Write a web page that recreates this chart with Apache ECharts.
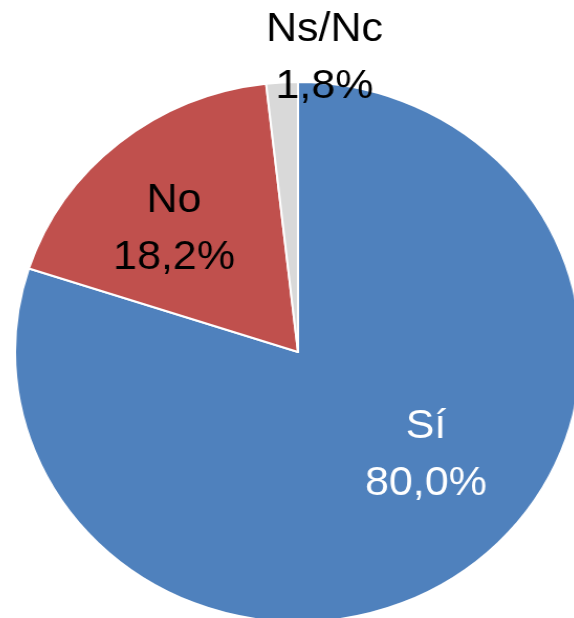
<!DOCTYPE html>
<html>
<head>
<meta charset="utf-8">
<script src="https://cdn.jsdelivr.net/npm/echarts@6/dist/echarts.min.js"></script>
<style>
html,body{margin:0;padding:0;background:#fff;overflow:hidden;}
#wrap{width:574px;height:618px;overflow:hidden;position:relative;}
#chart{width:574px;height:618px;transform:scaleX(1.048);transform-origin:298px 352px;}
</style>
</head>
<body>
<div id="wrap"><div id="chart"></div></div>
<script>
const categories = ['Sí', 'No', 'Ns/Nc'];
const values = [80.0, 18.2, 1.8];
const colors = ['#4F81BD', '#C0504D', '#D9D9D9'];
const labelColors = ['#ffffff', '#000000', '#000000'];
const labelShift = [[41, -8], [-31, -16], [33, -156]];

const chart = echarts.init(document.getElementById('chart'), null, {renderer: 'canvas'});
chart.setOption({
  animation: false,
  series: [{
    type: 'pie',
    center: [298, 352],
    radius: [0, 270],
    startAngle: 90,
    clockwise: true,
    avoidLabelOverlap: false,
    itemStyle: {borderColor: '#ffffff', borderWidth: 2},
    label: {
      show: true,
      position: 'inside',
      fontFamily: 'Liberation Sans',
      fontSize: 41,
      lineHeight: 57,
      align: 'center',
      formatter: p => p.name + '\n' + p.value.toFixed(1).replace('.', ',') + '%'
    },
    labelLine: {show: false},
    emphasis: {disabled: true},
    labelLayout: p => ({dx: labelShift[p.dataIndex][0], dy: labelShift[p.dataIndex][1]}),
    data: categories.map((c, i) => ({
      name: c,
      value: values[i],
      itemStyle: {color: colors[i]},
      label: {color: labelColors[i]}
    }))
  }]
});
</script>
</body>
</html>
